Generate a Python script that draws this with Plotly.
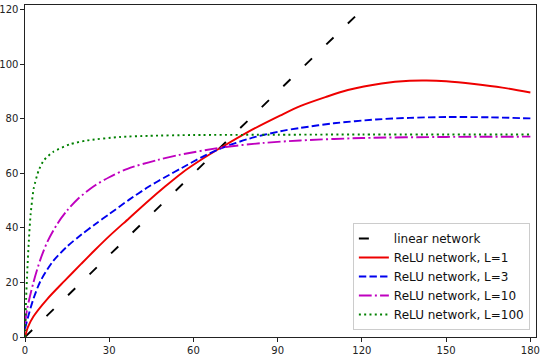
import plotly.graph_objects as go

# ---- data ----
linear_x = [0, 180]
linear_y = [0, 180]

relu1_x = [0, 1, 3, 8, 14, 20, 25, 30, 37, 44, 50, 56, 63, 70, 79, 91, 98, 107, 115, 127, 137, 143, 150, 160, 170, 180]
relu1_y = [0, 3.5, 7.5, 14, 20.5, 26.8, 32, 37, 43.5, 50, 55.3, 60.3, 65.2, 69.6, 75, 81.3, 84.7, 88, 90.6, 93, 94, 94.1, 93.8, 92.8, 91.5, 89.7]

relu3_x = [0, 1, 3, 5.5, 10, 15, 20, 25, 30, 37, 44, 50, 56, 63, 70, 80, 91, 98, 110, 125, 137, 150, 165, 180]
relu3_y = [3, 7, 14, 20.5, 27.8, 33.2, 37.5, 41.4, 45.1, 50.3, 55.1, 58.7, 62.1, 66, 69.3, 72.8, 75.5, 76.7, 78.4, 79.8, 80.4, 80.7, 80.6, 80.2]

relu10_x = [0, 0.8, 3, 5.5, 8, 11.5, 15, 19, 24.5, 30, 36.5, 47, 55, 70, 85, 98, 120, 150, 180]
relu10_y = [5, 10.5, 20, 28.5, 35, 41.5, 46.4, 50.8, 55.3, 58.6, 61.7, 64.9, 66.8, 69.5, 71.2, 72.1, 73, 73.4, 73.5]

relu100_x = [0, 0.4, 0.8, 1.35, 2, 3.1, 4.9, 6.7, 10, 16, 22, 34, 44, 60, 90, 120, 180]
relu100_y = [0, 14, 24, 35, 45, 54.5, 61.2, 64.8, 67.9, 70.7, 72.1, 73.4, 73.8, 74.1, 74.2, 74.3, 74.3]

x_ticks = [0, 30, 60, 90, 120, 150, 180]
y_ticks = [0, 20, 40, 60, 80, 100, 120]

FONT = "DejaVu Sans"
LW = 1.9

fig = go.Figure()
fig.add_trace(go.Scatter(x=linear_x, y=linear_y, mode="lines", name="linear network",
                         line=dict(color="black", width=LW, dash="10px,20px")))
fig.add_trace(go.Scatter(x=relu1_x, y=relu1_y, mode="lines", name="ReLU network, L=1",
                         line=dict(color="#ee0000", width=LW, shape="spline", smoothing=0.8)))
fig.add_trace(go.Scatter(x=relu3_x, y=relu3_y, mode="lines", name="ReLU network, L=3",
                         line=dict(color="#0000ee", width=LW, dash="7.4px,3.2px", shape="spline", smoothing=0.8)))
fig.add_trace(go.Scatter(x=relu10_x, y=relu10_y, mode="lines", name="ReLU network, L=10",
                         line=dict(color="#bf00bf", width=LW, dash="12.8px,3.2px,2px,3.2px", shape="spline", smoothing=0.8)))
fig.add_trace(go.Scatter(x=relu100_x, y=relu100_y, mode="lines", name="ReLU network, L=100",
                         line=dict(color="#008000", width=LW, dash="2px,3.3px", shape="spline", smoothing=0.6)))

axis_common = dict(showgrid=False, zeroline=False, showline=True, mirror=True,
                   linecolor="#222222", linewidth=1.3, ticks="outside", ticklen=3.5,
                   tickwidth=1, tickcolor="#222222", automargin=False,
                   tickfont=dict(family=FONT, size=10, color="#222222"))

fig.update_xaxes(range=[0, 182], tickvals=x_ticks, ticktext=[str(v) for v in x_ticks], **axis_common)
fig.update_yaxes(range=[0, 121.8], tickvals=y_ticks, ticktext=[str(v) for v in y_ticks], **axis_common)

fig.update_layout(
    width=546, height=360,
    margin=dict(l=25, r=10, t=5, b=23),
    paper_bgcolor="white", plot_bgcolor="white",
    font=dict(family=FONT, size=12, color="#111111"),
    showlegend=True,
    legend=dict(x=0.988, y=0.021, xanchor="right", yanchor="bottom",
                bgcolor="rgba(255,255,255,0.85)", bordercolor="#cccccc", borderwidth=1,
                font=dict(family=FONT, size=12, color="#111111"), tracegroupgap=0),
)

fig.write_html("out.html", config={"displayModeBar": False},
               post_script="document.body.style.margin='0px';document.body.style.padding='0px';")
